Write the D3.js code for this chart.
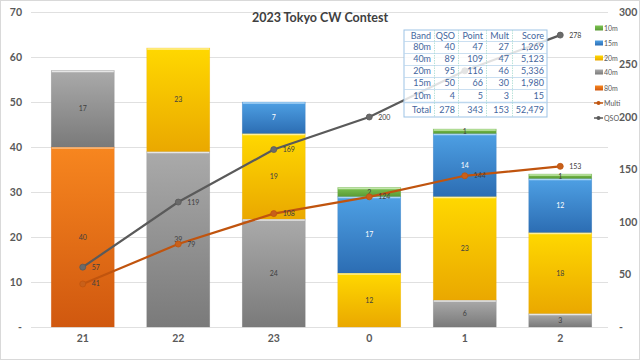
<!DOCTYPE html>
<html><head><meta charset="utf-8">
<script src="https://cdn.jsdelivr.net/npm/d3@7"></script>
<style>body{margin:0;background:#fff}svg{display:block}</style>
</head><body>
<svg id="c" width="640" height="360"></svg>
<script>
const hours = ["21","22","23","0","1","2"];
const bands = ["80m","40m","20m","15m","10m"];
const qso80 = [40,0,0,0,0,0];
const qso40 = [17,39,24,0,6,3];
const qso20 = [0,23,19,12,23,18];
const qso15 = [0,0,7,17,14,12];
const qso10 = [0,0,0,2,1,1];
const qsoCum = [57,119,169,200,244,278];
const multCum = [41,79,108,124,144,153];
const leftTicks = [0,10,20,30,40,50,60,70];
const rightTicks = [0,50,100,150,200,250,300];
const tblBand = ["80m","40m","20m","15m","10m","Total"];
const tblQSO = [40,89,95,50,4,278];
const tblPoint = [47,109,116,66,5,343];
const tblMult = [27,47,46,30,3,153];
const tblScore = ["1,269","5,123","5,336","1,980","15","52,479"];

const series = [
  {name:"80m", vals:qso80, top:"#f7861f", bot:"#d0580f", hi:"#fbc08a", lab:"#404040"},
  {name:"40m", vals:qso40, top:"#aaaaaa", bot:"#7a7a7a", hi:"#e6e6e6", lab:"#404040"},
  {name:"20m", vals:qso20, top:"#ffd800", bot:"#eaa800", hi:"#fff09a", lab:"#404040"},
  {name:"15m", vals:qso15, top:"#4ea0e4", bot:"#2c6db3", hi:"#a9d3f5", lab:"#ffffff"},
  {name:"10m", vals:qso10, top:"#7cc451", bot:"#5a9a35", hi:"#c4e7ad", lab:"#404040"}
];

const svg = d3.select("#c");
const defs = svg.append("defs");
series.forEach((s,i)=>{
  const g = defs.append("linearGradient").attr("id","g"+i).attr("x1",0).attr("y1",0).attr("x2",0).attr("y2",1);
  g.append("stop").attr("offset","0%").attr("stop-color",s.top);
  g.append("stop").attr("offset","100%").attr("stop-color",s.bot);
});

svg.append("rect").attr("x",0.5).attr("y",0.5).attr("width",639).attr("height",359)
  .attr("fill","#fff").attr("stroke","#d9d9d9");

const x = d3.scaleBand().domain(hours).range([35,608]).paddingInner(0.34).paddingOuter(0.17);
const yL = d3.scaleLinear().domain([0,70]).range([327,12]);
const yR = d3.scaleLinear().domain([0,300]).range([327,12]);

// table geometry
const colW = [30,24,28,26,35];
const colX = [404]; colW.forEach((w,i)=>colX.push(colX[i]+w));
const rowY = [30,41,53,65,77,89,102,117];
const inTable = (px,py)=> px>=colX[0]-2 && px<=colX[5]+2 && py>=rowY[0]-2 && py<=rowY[7]+2;

// gridlines
svg.append("g").selectAll("line").data(leftTicks).join("line")
  .attr("x1",31).attr("x2",608).attr("y1",d=>yL(d)+0.5).attr("y2",d=>yL(d)+0.5)
  .attr("stroke","#e0e0e0").attr("stroke-width",1);

const axFont = "Lato, 'Open Sans', sans-serif";
const axL = d3.axisLeft(yL).tickValues(leftTicks).tickSize(0).tickPadding(0).tickFormat(d=>d===0?"-":d);
const gL = svg.append("g").attr("transform","translate(22,0)").call(axL);
gL.select(".domain").remove();
gL.selectAll("text").attr("font-family",axFont).attr("font-weight","bold").attr("font-size",10.5).attr("fill","#595959");
const axR = d3.axisRight(yR).tickValues(rightTicks).tickSize(0).tickPadding(0).tickFormat(d=>d===0?"-":d);
const gR = svg.append("g").attr("transform","translate(619,0)").call(axR);
gR.select(".domain").remove();
gR.selectAll("text").attr("font-family",axFont).attr("font-weight","bold").attr("font-size",10.5).attr("fill","#595959");
const axB = d3.axisBottom(x).tickSize(0).tickPadding(0);
const gB = svg.append("g").attr("transform","translate(0,335)").call(axB);
gB.select(".domain").remove();
gB.selectAll("text").attr("font-family",axFont).attr("font-weight","bold").attr("font-size",10.5).attr("fill","#595959");

// stacked bars
const rows = hours.map((h,i)=>{const o={hour:h}; series.forEach(s=>o[s.name]=s.vals[i]); return o;});
const stack = d3.stack().keys(bands)(rows);
stack.forEach((layer,si)=>{
  const s = series[si];
  const g = svg.append("g");
  const segs = layer.map((d,i)=>({h:hours[i],y0:d[0],y1:d[1],v:d[1]-d[0]})).filter(d=>d.v>0);
  g.selectAll("rect.b").data(segs).join("rect")
    .attr("x",d=>x(d.h)).attr("width",x.bandwidth())
    .attr("y",d=>yL(d.y1)).attr("height",d=>yL(d.y0)-yL(d.y1))
    .attr("fill","url(#g"+si+")").attr("stroke",s.bot).attr("stroke-opacity",0.35).attr("stroke-width",0.6);
  g.selectAll("line.hi").data(segs).join("line")
    .attr("x1",d=>x(d.h)+0.5).attr("x2",d=>x(d.h)+x.bandwidth()-0.5)
    .attr("y1",d=>yL(d.y1)+1).attr("y2",d=>yL(d.y1)+1)
    .attr("stroke",s.hi).attr("stroke-width",1.6);
  g.selectAll("text").data(segs).join("text")
    .attr("x",d=>x(d.h)+x.bandwidth()/2).attr("y",d=>yL((d.y0+d.y1)/2)+2.5)
    .attr("text-anchor","middle").attr("font-family",axFont).attr("font-size",7)
    .attr("fill",s.lab).text(d=>d.v);
});

// lines
const cx = h=>x(h)+x.bandwidth()/2;
function drawLine(vals,color,mk){
  const pts = hours.map((h,i)=>({h,v:vals[i]}));
  svg.append("path").datum(pts)
    .attr("d",d3.line().x(d=>cx(d.h)).y(d=>yR(d.v)))
    .attr("fill","none").attr("stroke",color).attr("stroke-width",2.2);
  svg.append("g").selectAll("circle").data(pts).join("circle")
    .attr("cx",d=>cx(d.h)).attr("cy",d=>yR(d.v)).attr("r",3)
    .attr("fill",mk).attr("stroke",color).attr("stroke-width",0.8);
  // labels hidden beneath the table in the original are not drawn
  svg.append("g").selectAll("text").data(pts.filter(d=>!inTable(cx(d.h),yR(d.v)))).join("text")
    .attr("x",d=>cx(d.h)+9).attr("y",d=>yR(d.v)+2.5)
    .attr("font-family",axFont).attr("font-size",7).attr("fill","#404040").text(d=>d.v);
}
drawLine(multCum,"#c0540e","#c8601a");
drawLine(qsoCum,"#5a5a5a","#6a6a6a");

// table (semi-transparent overlay)
const tg = svg.append("g");
tg.append("rect").attr("x",colX[0]).attr("y",rowY[0]).attr("width",colX[5]-colX[0]).attr("height",rowY[7]-rowY[0])
  .attr("fill","#fff").attr("fill-opacity",0.82).attr("stroke","#9dc3e6").attr("stroke-width",1);
tg.selectAll("line.h").data(rowY.slice(1,7)).join("line")
  .attr("x1",colX[0]).attr("x2",colX[5]).attr("y1",d=>d+0.5).attr("y2",d=>d+0.5)
  .attr("stroke","#bdd7ee").attr("stroke-width",d=>d===102?1.5:0.8);
tg.selectAll("line.v").data(colX.slice(1,5)).join("line")
  .attr("x1",d=>d+0.5).attr("x2",d=>d+0.5).attr("y1",rowY[0]).attr("y2",rowY[7])
  .attr("stroke","#a8dcd0").attr("stroke-width",0.8).attr("stroke-dasharray","1.5,1");
const header = ["Band","QSO","Point","Mult","Score"];
const tblRows = [header].concat(tblBand.map((b,i)=>[b,tblQSO[i],tblPoint[i],tblMult[i],tblScore[i]]));
tblRows.forEach((r,ri)=>{
  const yc = (rowY[ri]+rowY[ri+1])/2+3;
  r.forEach((v,ci)=>{
    tg.append("text").attr("x",colX[ci+1]-3).attr("y",yc).attr("text-anchor","end")
      .attr("font-family",axFont).attr("font-size",9).attr("fill","#44669e").text(v);
  });
});

// legend
const lg = svg.append("g");
const legItems = ["10m","15m","20m","40m","80m"];
const legY = [28,43,58,72,88,103,118];
legItems.forEach((n,i)=>{
  const si = bands.indexOf(n);
  lg.append("rect").attr("x",595).attr("y",legY[i]-2.5).attr("width",8).attr("height",5).attr("fill","url(#g"+si+")");
  lg.append("text").attr("x",604).attr("y",legY[i]+2.5).attr("font-family",axFont).attr("font-size",7).attr("fill","#595959").text(n);
});
[["Multi","#c0540e"],["QSO","#5a5a5a"]].forEach((d,j)=>{
  const yy = legY[5+j];
  lg.append("line").attr("x1",594).attr("x2",603).attr("y1",yy).attr("y2",yy).attr("stroke",d[1]).attr("stroke-width",1.5);
  lg.append("circle").attr("cx",598.5).attr("cy",yy).attr("r",2).attr("fill",d[1]);
  lg.append("text").attr("x",604).attr("y",yy+2.5).attr("font-family",axFont).attr("font-size",7).attr("fill","#595959").text(d[0]);
});

// title
svg.append("text").attr("x",320).attr("y",22).attr("text-anchor","middle")
  .attr("font-family",axFont).attr("font-weight","bold").attr("font-size",12.5).attr("fill","#404040")
  .text("2023 Tokyo CW Contest");
</script>
</body></html>
